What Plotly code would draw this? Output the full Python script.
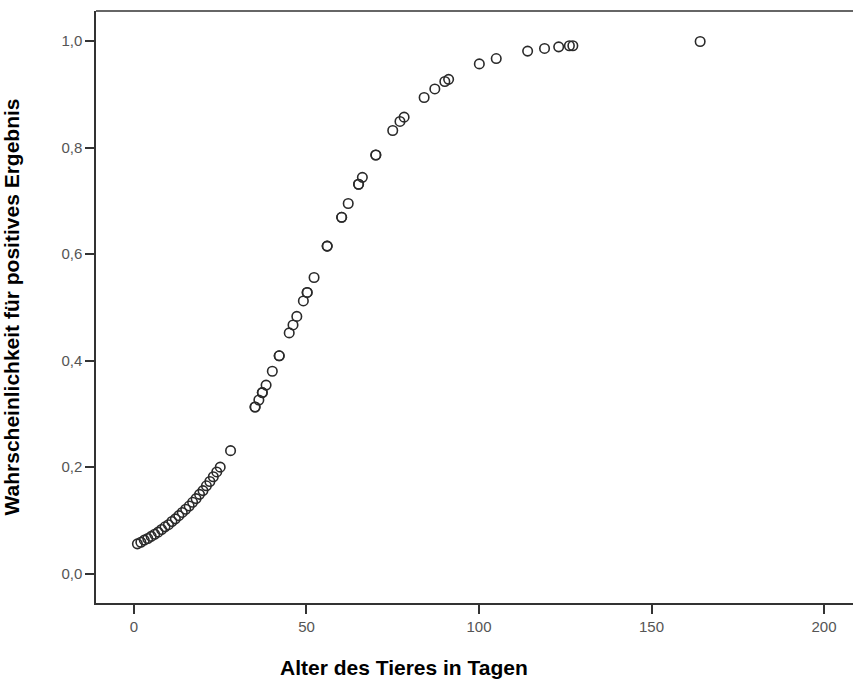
import plotly.graph_objects as go

# Age of the animal in days (x) and predicted probability (y)
age_days = [
    1, 2, 3, 4, 5, 6, 7, 8, 9, 10, 11, 12, 13, 14, 15, 16, 17, 18, 19, 20,
    21, 22, 23, 24, 25, 28,
    35.1, 35.1, 36.2, 37.2, 37.2, 38.3, 40.1, 42.1, 42.1, 45.0, 46.1, 47.2, 49.1,
    50.2, 50.2, 52.2, 56.0, 56.0, 60.2, 60.2, 62.1, 65.1, 65.1, 66.2, 70.1, 70.1,
    75.0, 77.1, 78.3, 84.1, 87.2, 90.1, 91.2, 100.1, 105.0, 114.1, 119.0, 123.1,
    126.2, 127.2, 164.1,
]
probability = [
    0.056, 0.059, 0.063, 0.066, 0.070, 0.074, 0.078, 0.083, 0.088, 0.092,
    0.098, 0.103, 0.109, 0.115, 0.121, 0.127, 0.134, 0.141, 0.149, 0.156,
    0.165, 0.173, 0.182, 0.191, 0.200, 0.231,
    0.313, 0.313, 0.326, 0.340, 0.340, 0.354, 0.380, 0.409, 0.409, 0.452, 0.467, 0.483, 0.512,
    0.528, 0.528, 0.556, 0.615, 0.615, 0.669, 0.669, 0.695, 0.731, 0.731, 0.744, 0.786, 0.786,
    0.832, 0.849, 0.857, 0.894, 0.910, 0.924, 0.928, 0.957, 0.967, 0.981, 0.986, 0.989,
    0.991, 0.991, 0.999,
]

x_ticks = [0, 50, 100, 150, 200]
y_ticks = [0.0, 0.2, 0.4, 0.6, 0.8, 1.0]

x_title = "Alter des Tieres in Tagen"
y_title = "Wahrscheinlichkeit für positives Ergebnis"

FONT = "Arial, 'Liberation Sans', sans-serif"

fig = go.Figure()
fig.add_trace(go.Scatter(
    x=age_days, y=probability, mode="markers",
    marker=dict(symbol="circle-open", size=9.5, color="#2a2a2a",
                line=dict(width=1.6, color="#2a2a2a")),
    showlegend=False, hoverinfo="x+y",
))

axis_common = dict(
    showgrid=False, zeroline=False, showline=True, linecolor="#333333", linewidth=1.5,
    ticks="outside", ticklen=9, tickwidth=1.5, tickcolor="#333333",
    tickfont=dict(family=FONT, size=15, color="#555555"),
)

fig.update_xaxes(range=[-11.0, 208.4], tickvals=x_ticks, **axis_common)
fig.update_yaxes(
    range=[-0.055, 1.0563], tickvals=y_ticks, tickformat=".1f",
    title=dict(text=y_title, font=dict(family=FONT, size=21, color="#000000",
                                        weight="bold"), standoff=40),
    **axis_common,
)

# x-axis title (centred on the original, wider plot area)
fig.add_annotation(
    text=x_title, xref="paper", yref="paper", x=0.4069, y=-0.086,
    xanchor="center", yanchor="top", showarrow=False,
    font=dict(family=FONT, size=21, color="#000000", weight="bold"),
)

# top frame line
fig.add_shape(type="line", xref="paper", yref="paper", x0=0, x1=1, y0=1, y1=1,
              line=dict(color="#333333", width=1.5))

fig.update_layout(
    width=853, height=679,
    margin=dict(l=96, r=0, t=11, b=76, autoexpand=False),
    paper_bgcolor="white", plot_bgcolor="white",
    separators=",.",
    font=dict(family=FONT),
)

fig.write_html("out.html")
